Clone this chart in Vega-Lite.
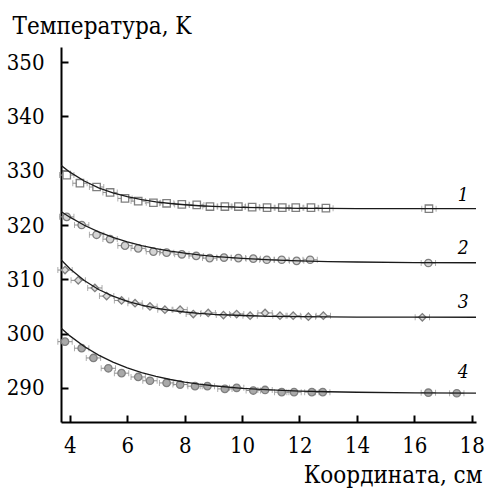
{
  "$schema": "https://vega.github.io/schema/vega-lite/v6.json",
  "autosize": "none",
  "width": 415,
  "height": 375,
  "padding": {"left": 61, "top": 47, "right": 16, "bottom": 66},
  "background": "white",
  "config": {
    "font": "DejaVu Serif Condensed, DejaVu Serif",
    "view": {"stroke": null},
    "axis": {
      "domainColor": "black",
      "domainWidth": 2,
      "tickColor": "black",
      "tickWidth": 2,
      "tickSize": -7,
      "grid": false,
      "labelFont": "DejaVu Serif Condensed, DejaVu Serif",
      "labelFontSize": 22,
      "labelColor": "black",
      "titleFont": "DejaVu Serif Condensed, DejaVu Serif",
      "titleFontSize": 24,
      "titleFontWeight": "normal",
      "titleColor": "black"
    }
  },
  "datasets": {
    "fit": [
      {"series": "1", "x": 3.69, "T": 331.0}, {"series": "1", "x": 4.0, "T": 329.74}, {"series": "1", "x": 4.5, "T": 328.1},
      {"series": "1", "x": 5.0, "T": 326.86}, {"series": "1", "x": 5.5, "T": 325.93}, {"series": "1", "x": 6.0, "T": 325.22},
      {"series": "1", "x": 6.5, "T": 324.68}, {"series": "1", "x": 7.0, "T": 324.27}, {"series": "1", "x": 7.5, "T": 323.96},
      {"series": "1", "x": 8.0, "T": 323.73}, {"series": "1", "x": 8.5, "T": 323.55}, {"series": "1", "x": 9.0, "T": 323.42},
      {"series": "1", "x": 10.0, "T": 323.24}, {"series": "1", "x": 11.0, "T": 323.14}, {"series": "1", "x": 12.0, "T": 323.08},
      {"series": "1", "x": 13.0, "T": 323.05}, {"series": "1", "x": 14.0, "T": 323.03}, {"series": "1", "x": 16.0, "T": 323.01},
      {"series": "1", "x": 18.15, "T": 323.0},
      {"series": "2", "x": 3.69, "T": 322.5}, {"series": "2", "x": 4.0, "T": 321.44}, {"series": "2", "x": 4.5, "T": 319.95},
      {"series": "2", "x": 5.0, "T": 318.74}, {"series": "2", "x": 5.5, "T": 317.74}, {"series": "2", "x": 6.0, "T": 316.9},
      {"series": "2", "x": 6.5, "T": 316.22}, {"series": "2", "x": 7.0, "T": 315.66}, {"series": "2", "x": 7.5, "T": 315.19},
      {"series": "2", "x": 8.0, "T": 314.81}, {"series": "2", "x": 8.5, "T": 314.49}, {"series": "2", "x": 9.0, "T": 314.23},
      {"series": "2", "x": 10.0, "T": 313.84}, {"series": "2", "x": 11.0, "T": 313.57}, {"series": "2", "x": 12.0, "T": 313.39},
      {"series": "2", "x": 13.0, "T": 313.26}, {"series": "2", "x": 14.0, "T": 313.18}, {"series": "2", "x": 16.0, "T": 313.08},
      {"series": "2", "x": 18.15, "T": 313.04},
      {"series": "3", "x": 3.69, "T": 313.6}, {"series": "3", "x": 4.0, "T": 311.93}, {"series": "3", "x": 4.5, "T": 309.76},
      {"series": "3", "x": 5.0, "T": 308.12}, {"series": "3", "x": 5.5, "T": 306.88}, {"series": "3", "x": 6.0, "T": 305.94},
      {"series": "3", "x": 6.5, "T": 305.23}, {"series": "3", "x": 7.0, "T": 304.69}, {"series": "3", "x": 7.5, "T": 304.27},
      {"series": "3", "x": 8.0, "T": 303.97}, {"series": "3", "x": 8.5, "T": 303.73}, {"series": "3", "x": 9.0, "T": 303.55},
      {"series": "3", "x": 10.0, "T": 303.32}, {"series": "3", "x": 11.0, "T": 303.18}, {"series": "3", "x": 12.0, "T": 303.1},
      {"series": "3", "x": 13.0, "T": 303.06}, {"series": "3", "x": 14.0, "T": 303.03}, {"series": "3", "x": 16.0, "T": 303.01},
      {"series": "3", "x": 18.15, "T": 303.0},
      {"series": "4", "x": 3.69, "T": 301.0}, {"series": "4", "x": 4.0, "T": 299.57}, {"series": "4", "x": 4.5, "T": 297.62},
      {"series": "4", "x": 5.0, "T": 296.03}, {"series": "4", "x": 5.5, "T": 294.74}, {"series": "4", "x": 6.0, "T": 293.67},
      {"series": "4", "x": 6.5, "T": 292.82}, {"series": "4", "x": 7.0, "T": 292.11}, {"series": "4", "x": 7.5, "T": 291.53},
      {"series": "4", "x": 8.0, "T": 291.06}, {"series": "4", "x": 8.5, "T": 290.68}, {"series": "4", "x": 9.0, "T": 290.38},
      {"series": "4", "x": 10.0, "T": 289.91}, {"series": "4", "x": 11.0, "T": 289.61}, {"series": "4", "x": 12.0, "T": 289.4},
      {"series": "4", "x": 13.0, "T": 289.27}, {"series": "4", "x": 14.0, "T": 289.18}, {"series": "4", "x": 16.0, "T": 289.08},
      {"series": "4", "x": 18.15, "T": 289.03}
    ],
    "meas": [
      {"series": "1", "x": 3.89, "T": 329.2, "err": 0.25}, {"series": "1", "x": 4.35, "T": 327.7, "err": 0.25},
      {"series": "1", "x": 4.93, "T": 327.0, "err": 0.25}, {"series": "1", "x": 5.40, "T": 326.0, "err": 0.25},
      {"series": "1", "x": 5.92, "T": 324.9, "err": 0.25}, {"series": "1", "x": 6.38, "T": 324.4, "err": 0.25},
      {"series": "1", "x": 6.91, "T": 324.1, "err": 0.25}, {"series": "1", "x": 7.37, "T": 324.0, "err": 0.25},
      {"series": "1", "x": 7.90, "T": 323.8, "err": 0.25}, {"series": "1", "x": 8.42, "T": 323.7, "err": 0.25},
      {"series": "1", "x": 8.88, "T": 323.4, "err": 0.25}, {"series": "1", "x": 9.40, "T": 323.4, "err": 0.25},
      {"series": "1", "x": 9.87, "T": 323.4, "err": 0.25}, {"series": "1", "x": 10.35, "T": 323.3, "err": 0.25},
      {"series": "1", "x": 10.87, "T": 323.2, "err": 0.25}, {"series": "1", "x": 11.40, "T": 323.2, "err": 0.25},
      {"series": "1", "x": 11.87, "T": 323.2, "err": 0.25}, {"series": "1", "x": 12.40, "T": 323.2, "err": 0.25},
      {"series": "1", "x": 12.92, "T": 323.1, "err": 0.25}, {"series": "1", "x": 16.51, "T": 323.0, "err": 0.25},
      {"series": "2", "x": 3.89, "T": 321.5, "err": 0.25}, {"series": "2", "x": 4.41, "T": 320.0, "err": 0.25},
      {"series": "2", "x": 4.93, "T": 318.2, "err": 0.25}, {"series": "2", "x": 5.40, "T": 317.4, "err": 0.25},
      {"series": "2", "x": 5.92, "T": 316.2, "err": 0.25}, {"series": "2", "x": 6.38, "T": 315.7, "err": 0.25},
      {"series": "2", "x": 6.91, "T": 315.1, "err": 0.25}, {"series": "2", "x": 7.37, "T": 314.9, "err": 0.25},
      {"series": "2", "x": 7.90, "T": 314.6, "err": 0.25}, {"series": "2", "x": 8.40, "T": 314.3, "err": 0.25},
      {"series": "2", "x": 8.87, "T": 313.9, "err": 0.25}, {"series": "2", "x": 9.37, "T": 314.0, "err": 0.25},
      {"series": "2", "x": 9.87, "T": 313.9, "err": 0.25}, {"series": "2", "x": 10.39, "T": 313.8, "err": 0.25},
      {"series": "2", "x": 10.86, "T": 313.6, "err": 0.25}, {"series": "2", "x": 11.38, "T": 313.6, "err": 0.25},
      {"series": "2", "x": 11.90, "T": 313.4, "err": 0.25}, {"series": "2", "x": 12.37, "T": 313.6, "err": 0.25},
      {"series": "2", "x": 16.49, "T": 313.0, "err": 0.25},
      {"series": "3", "x": 3.83, "T": 311.7, "err": 0.25}, {"series": "3", "x": 4.29, "T": 309.8, "err": 0.25},
      {"series": "3", "x": 4.87, "T": 308.4, "err": 0.25}, {"series": "3", "x": 5.28, "T": 306.9, "err": 0.25},
      {"series": "3", "x": 5.80, "T": 306.1, "err": 0.25}, {"series": "3", "x": 6.27, "T": 305.6, "err": 0.25},
      {"series": "3", "x": 6.79, "T": 305.0, "err": 0.25}, {"series": "3", "x": 7.31, "T": 304.4, "err": 0.25},
      {"series": "3", "x": 7.84, "T": 304.4, "err": 0.25}, {"series": "3", "x": 8.30, "T": 303.6, "err": 0.25},
      {"series": "3", "x": 8.82, "T": 303.8, "err": 0.25}, {"series": "3", "x": 9.35, "T": 303.4, "err": 0.25},
      {"series": "3", "x": 9.81, "T": 303.6, "err": 0.25}, {"series": "3", "x": 10.28, "T": 303.3, "err": 0.25},
      {"series": "3", "x": 10.80, "T": 303.8, "err": 0.25}, {"series": "3", "x": 11.32, "T": 303.3, "err": 0.25},
      {"series": "3", "x": 11.78, "T": 303.3, "err": 0.25}, {"series": "3", "x": 12.31, "T": 303.1, "err": 0.25},
      {"series": "3", "x": 12.83, "T": 303.3, "err": 0.25}, {"series": "3", "x": 16.28, "T": 303.0, "err": 0.25},
      {"series": "4", "x": 3.83, "T": 298.5, "err": 0.25}, {"series": "4", "x": 4.41, "T": 297.3, "err": 0.25},
      {"series": "4", "x": 4.82, "T": 295.5, "err": 0.25}, {"series": "4", "x": 5.34, "T": 293.6, "err": 0.25},
      {"series": "4", "x": 5.80, "T": 292.7, "err": 0.25}, {"series": "4", "x": 6.38, "T": 292.0, "err": 0.25},
      {"series": "4", "x": 6.79, "T": 291.3, "err": 0.25}, {"series": "4", "x": 7.37, "T": 290.9, "err": 0.25},
      {"series": "4", "x": 7.84, "T": 290.6, "err": 0.25}, {"series": "4", "x": 8.36, "T": 290.3, "err": 0.25},
      {"series": "4", "x": 8.79, "T": 290.3, "err": 0.25}, {"series": "4", "x": 9.40, "T": 289.8, "err": 0.25},
      {"series": "4", "x": 9.81, "T": 290.0, "err": 0.25}, {"series": "4", "x": 10.39, "T": 289.5, "err": 0.25},
      {"series": "4", "x": 10.80, "T": 289.6, "err": 0.25}, {"series": "4", "x": 11.38, "T": 289.2, "err": 0.25},
      {"series": "4", "x": 11.81, "T": 289.2, "err": 0.25}, {"series": "4", "x": 12.43, "T": 289.2, "err": 0.25},
      {"series": "4", "x": 12.81, "T": 289.2, "err": 0.25}, {"series": "4", "x": 16.49, "T": 289.1, "err": 0.25},
      {"series": "4", "x": 17.48, "T": 289.0, "err": 0.25}
    ],
    "labels": [
      {"series": "1", "x": 17.7, "T": 325.5},
      {"series": "2", "x": 17.7, "T": 315.8},
      {"series": "3", "x": 17.7, "T": 305.8},
      {"series": "4", "x": 17.7, "T": 292.9}
    ]
  },
  "encoding": {
    "x": {
      "field": "x", "type": "quantitative",
      "scale": {"domain": [3.69, 18.15], "nice": false, "zero": false},
      "axis": {
        "values": [4, 6, 8, 10, 12, 14, 16, 18],
        "labelPadding": 20,
        "title": "Координата, см",
        "titleAngle": 0,
        "titleAlign": "right",
        "titleBaseline": "alphabetic",
        "titleX": 421,
        "titleY": 60
      }
    },
    "y": {
      "field": "T", "type": "quantitative",
      "scale": {"domain": [283.7, 352.8], "nice": false, "zero": false},
      "axis": {
        "values": [290, 300, 310, 320, 330, 340, 350],
        "labelPadding": 24,
        "title": "Температура, K",
        "titleAngle": 0,
        "titleAlign": "left",
        "titleBaseline": "alphabetic",
        "titleX": -49,
        "titleY": -14
      }
    }
  },
  "layer": [
    {
      "data": {"name": "meas"},
      "mark": {"type": "errorbar", "ticks": {"size": 6, "thickness": 1, "color": "#8c8c8c"}, "color": "#8c8c8c", "thickness": 1},
      "encoding": {
        "x": {"field": "x", "type": "quantitative"},
        "xError": {"field": "err"},
        "y": {"field": "T", "type": "quantitative"},
        "detail": {"field": "series"}
      }
    },
    {
      "data": {"name": "meas"},
      "mark": {"type": "point", "filled": false, "size": 55, "strokeWidth": 1.3, "opacity": 1},
      "encoding": {
        "shape": {"field": "series", "type": "nominal", "scale": {"domain": ["1", "2", "3", "4"], "range": ["square", "circle", "diamond", "circle"]}, "legend": null},
        "fill": {"field": "series", "type": "nominal", "scale": {"domain": ["1", "2", "3", "4"], "range": ["#ffffff", "#d4d4d4", "#dcdcdc", "#a9a9a9"]}, "legend": null},
        "stroke": {"value": "#7f7f7f"}
      }
    },
    {
      "data": {"name": "fit"},
      "mark": {"type": "line", "color": "#1a1a1a", "strokeWidth": 1.3, "clip": true},
      "encoding": {
        "detail": {"field": "series", "type": "nominal"}
      }
    },
    {
      "data": {"name": "labels"},
      "mark": {"type": "text", "font": "DejaVu Serif Condensed, DejaVu Serif", "fontStyle": "italic", "fontSize": 19, "color": "black", "baseline": "middle"},
      "encoding": {
        "text": {"field": "series", "type": "nominal"}
      }
    }
  ]
}
